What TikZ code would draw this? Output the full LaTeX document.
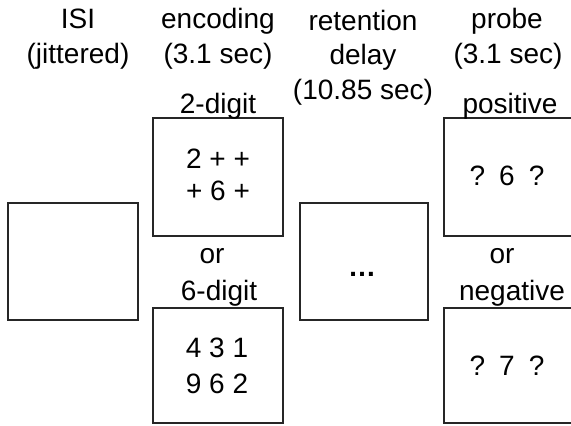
\documentclass[tikz,border=0pt]{standalone}
\usepackage{fontspec}
\setmainfont{Liberation Sans}
\begin{document}
\begin{tikzpicture}[x=1bp,y=-1bp,
  lbl/.style={anchor=base,inner sep=0pt,font=\fontsize{28bp}{34bp}\selectfont},
  screen/.style={draw=black!85,line width=1.1bp,inner sep=0pt,minimum width=130bp,minimum height=117bp}]
\clip (0,0) rectangle (571,425);
\fill[white] (0,0) rectangle (571,425);
% column headers
\node[lbl] (isi1) at (78,28) {ISI};
\node[lbl] (isi2) at (78,63) {(jittered)};
\node[lbl] (enc1) at (218,28) {encoding};
\node[lbl] (enc2) at (218,63) {(3.1 sec)};
\node[lbl] (ret1) at (363,30) {retention};
\node[lbl] (ret2) at (363,64) {delay};
\node[lbl] (ret3) at (363,99) {(10.85 sec)};
\node[lbl] (prb1) at (507,28) {probe};
\node[lbl] (prb2) at (508,63) {(3.1 sec)};
% boxes
\node[screen] (isibox) at (73,261.5) {};
\node[screen,minimum height=118bp] (enc2box) at (218,177) {};
\node[screen,minimum height=115bp] (enc6box) at (218,365.5) {};
\node[screen,minimum width=128bp] (retbox) at (364,261.5) {};
\node[screen,minimum height=118bp] (posbox) at (509,177) {};
\node[screen,minimum height=115bp] (negbox) at (509,365.5) {};
% encoding labels
\node[lbl] (two) at (218,113) {2-digit};
\node[lbl] (e1) at (218,168) {2 + +};
\node[lbl] (e2) at (218,200) {+ 6 +};
\node[lbl] (or1) at (212,263) {or};
\node[lbl] (six) at (219,300) {6-digit};
\node[lbl] (s1) at (217,357) {4 3 1};
\node[lbl] (s2) at (217,393) {9 6 2};
% retention
\node[lbl,font=\fontsize{28bp}{34bp}\selectfont\bfseries] (dots) at (362,276) {…};
% probe
\node[lbl] (pos) at (510,113) {positive};
\node[lbl] (p1) at (507,185) {?\hspace{0.5em}6\hspace{0.5em}?};
\node[lbl] (or2) at (502,263) {or};
\node[lbl] (neg) at (512,300) {negative};
\node[lbl] (n1) at (507,375) {?\hspace{0.5em}7\hspace{0.5em}?};
\end{tikzpicture}
\end{document}
